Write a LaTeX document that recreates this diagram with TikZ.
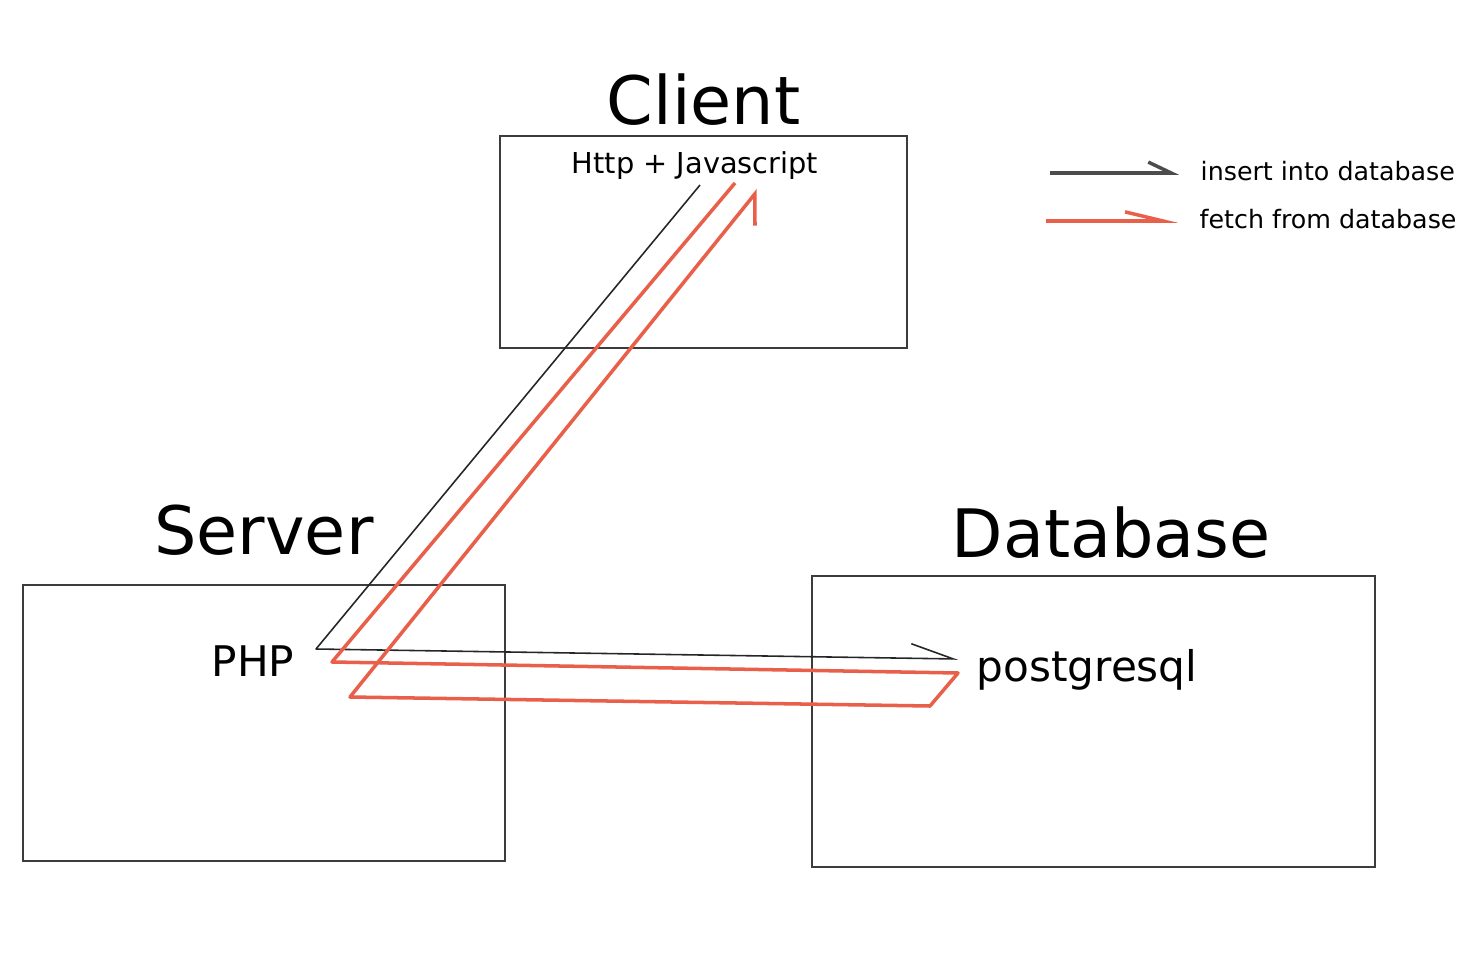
\documentclass[tikz,border=0pt]{standalone}
\usepackage{fontspec}
\setmainfont{DejaVu Sans}
\usetikzlibrary{arrows.meta,positioning}
\definecolor{fetchred}{RGB}{233,96,74}
\definecolor{boxgray}{RGB}{60,60,60}
\tikzstyle{tier}=[rectangle,draw=boxgray,line width=0.45pt,inner sep=0pt]
\tikzstyle{tiername}=[font=\fontsize{19}{22}\selectfont,inner sep=0pt]
\tikzstyle{tech}=[font=\fontsize{12}{14}\selectfont,inner sep=0pt]
\tikzstyle{legendtext}=[font=\fontsize{7.2}{9}\selectfont,anchor=west,inner sep=0pt]
\tikzstyle{insert}=[draw=black!85,line width=0.45pt,line join=round]
\tikzstyle{fetch}=[draw=fetchred,line width=1pt,line join=round]

\begin{document}
\begin{tikzpicture}[x=0.01cm,y=-0.01cm]
			\useasboundingbox (0,0) rectangle (1474,961);

			% tiers
			\node[tier,minimum width=4.07cm,minimum height=2.12cm,
				label={[tiername,label distance=2.6pt]above:Client}] (client) at (703.5,242) {};
			\node[tier,minimum width=4.82cm,minimum height=2.76cm,
				label={[tiername,label distance=8pt]above:Server}] (server) at (264,723) {};
			\node[tier,minimum width=5.63cm,minimum height=2.91cm,
				label={[tiername,label distance=4.5pt,xshift=5pt]above:Database}] (db) at (1093.5,721.5) {};

			\node[font=\fontsize{8.2}{10}\selectfont,inner sep=0pt] (http) at (695,166) {Http + Javascript};
			\node[tech] (php) at (253,661) {PHP};
			\node[tech] (pg) at (1087,670) {postgresql};

			% legend
			\node[legendtext] (lins) at (1200,171) {insert into database};
			\node[legendtext] (lfet) at (1199,219) {fetch from database};
			\coordinate (lins0) at (1050,173);
			\coordinate (lfet0) at (1046,221);
			\coordinate[left=6pt of lins.west] (lins1);
			\coordinate[left=6pt of lfet.west] (lfet1);
			\draw[insert,draw=black!70,line width=1pt,-{Straight Barb[left,length=6.5pt,angle'=51]}]
				(lins0) -- (lins0 -| lins1);
			\draw[fetch,-{Straight Barb[left,length=10.8pt,angle'=27]}]
				(lfet0) -- (lfet0 -| lfet1);

			% insert path
			\coordinate (a1) at (700,185);
			\coordinate (a2) at (316,649);
			\coordinate (a3) at (958,659);
			\draw[insert,-{Straight Barb[left,length=12pt,angle'=38]}] (a1) -- (a2) -- (a3);

			% fetch path
			\coordinate (r1) at (735,183);
			\coordinate (r2) at (332,662);
			\coordinate (r3) at (958,673);
			\coordinate (r4) at (930,706);
			\coordinate (r5) at (350,697);
			\coordinate (r6) at (758,190);
			\draw[fetch,-{Straight Barb[right,length=7pt,angle'=78]}]
				(r1) -- (r2) -- (r3) -- (r4) -- (r5) -- (r6);
		\end{tikzpicture}
\end{document}
